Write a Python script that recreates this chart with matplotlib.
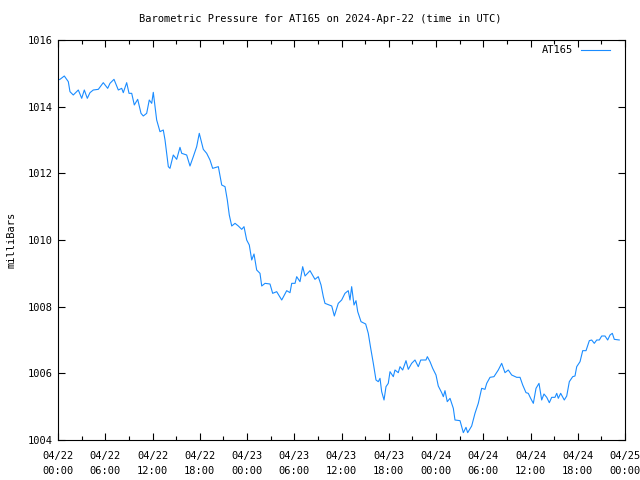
import matplotlib
matplotlib.use("Agg")
import matplotlib.pyplot as plt
from matplotlib.ticker import MultipleLocator

# hours since 2024-04-22 00:00 UTC
hours = [0.0, 0.25, 0.8, 1.31, 1.52, 1.94, 2.58, 3.01, 3.34, 3.72, 4.06, 4.48, 5.12, 5.75,
         6.31, 6.6, 7.11, 7.66, 8.09, 8.29, 8.72, 9.02, 9.36, 9.69, 10.12, 10.54, 10.83,
         11.26, 11.59, 11.9, 12.1, 12.32, 12.53, 12.95, 13.37, 13.59, 14.01, 14.22, 14.64,
         15.07, 15.49, 15.71, 16.34, 16.76, 17.18, 17.61, 17.94, 18.45, 18.88, 19.3, 19.64,
         20.36, 20.79, 21.21, 21.5, 21.75, 22.06, 22.48, 22.9, 23.33, 23.62, 23.96, 24.29,
         24.6, 24.89, 25.23, 25.65, 25.87, 26.29, 26.92, 27.26, 27.77, 28.41, 29.04, 29.46,
         29.68, 30.1, 30.31, 30.73, 31.07, 31.37, 32.0, 32.63, 33.05, 33.4, 33.69, 33.9,
         34.76, 35.09, 35.59, 36.02, 36.44, 36.86, 37.08, 37.29, 37.59, 37.84, 38.06, 38.48,
         39.07, 39.4, 39.71, 40.04, 40.38, 40.67, 40.89, 41.1, 41.4, 41.65, 41.94, 42.16,
         42.58, 42.79, 43.21, 43.43, 43.77, 44.19, 44.48, 44.91, 45.33, 45.75, 46.06, 46.73,
         46.9, 47.24, 47.58, 48.0, 48.29, 48.72, 48.93, 49.14, 49.43, 49.78, 50.2, 50.41,
         51.05, 51.47, 51.81, 52.02, 52.53, 52.95, 53.37, 53.8, 54.22, 54.44, 54.86, 55.36,
         55.91, 56.34, 56.76, 57.18, 57.61, 58.25, 58.67, 59.01, 59.43, 59.72, 60.02, 60.36,
         60.7, 61.08, 61.42, 61.71, 62.06, 62.39, 62.69, 63.11, 63.33, 63.53, 63.83, 64.29,
         64.6, 64.93, 65.36, 65.65, 65.87, 66.29, 66.63, 67.05, 67.47, 67.77, 68.1, 68.41,
         68.74, 69.04, 69.46, 69.8, 70.1, 70.39, 70.64, 71.27]

pressure = [1014.8, 1014.82, 1014.92, 1014.75, 1014.45, 1014.35, 1014.5, 1014.25, 1014.5,
            1014.25, 1014.42, 1014.5, 1014.52, 1014.72, 1014.55, 1014.7, 1014.82, 1014.5,
            1014.55, 1014.42, 1014.72, 1014.4, 1014.4, 1014.05, 1014.22, 1013.8, 1013.72,
            1013.8, 1014.2, 1014.1, 1014.43, 1014.0, 1013.6, 1013.25, 1013.3, 1013.0, 1012.2,
            1012.15, 1012.55, 1012.42, 1012.78, 1012.6, 1012.55, 1012.22, 1012.5, 1012.8,
            1013.2, 1012.72, 1012.6, 1012.4, 1012.15, 1012.2, 1011.65, 1011.6, 1011.2,
            1010.75, 1010.42, 1010.5, 1010.42, 1010.32, 1010.4, 1010.0, 1009.85, 1009.4,
            1009.58, 1009.1, 1009.0, 1008.62, 1008.7, 1008.68, 1008.4, 1008.45, 1008.2,
            1008.48, 1008.42, 1008.7, 1008.7, 1008.9, 1008.75, 1009.2, 1008.92, 1009.08,
            1008.82, 1008.9, 1008.65, 1008.3, 1008.1, 1008.02, 1007.72, 1008.1, 1008.2,
            1008.4, 1008.48, 1008.2, 1008.6, 1008.05, 1008.18, 1007.85, 1007.55, 1007.48,
            1007.2, 1006.75, 1006.3, 1005.8, 1005.75, 1005.85, 1005.45, 1005.2, 1005.6,
            1005.7, 1006.05, 1005.9, 1006.1, 1006.02, 1006.2, 1006.1, 1006.38, 1006.12,
            1006.3, 1006.4, 1006.2, 1006.4, 1006.4, 1006.5, 1006.35, 1006.15, 1005.95,
            1005.62, 1005.42, 1005.3, 1005.48, 1005.15, 1005.25, 1004.95, 1004.6, 1004.58,
            1004.22, 1004.38, 1004.22, 1004.42, 1004.8, 1005.1, 1005.55, 1005.52, 1005.7,
            1005.88, 1005.9, 1006.1, 1006.3, 1006.02, 1006.1, 1005.95, 1005.88, 1005.88,
            1005.65, 1005.42, 1005.4, 1005.25, 1005.1, 1005.55, 1005.7, 1005.2, 1005.38,
            1005.28, 1005.12, 1005.28, 1005.28, 1005.4, 1005.25, 1005.4, 1005.2, 1005.32,
            1005.75, 1005.9, 1005.92, 1006.2, 1006.35, 1006.68, 1006.68, 1006.98, 1007.0,
            1006.9, 1007.0, 1007.0, 1007.12, 1007.12, 1007.0, 1007.15, 1007.2, 1007.02,
            1007.0]

tick_hours = [0, 6, 12, 18, 24, 30, 36, 42, 48, 54, 60, 66, 72]
tick_labels = ["04/22\n00:00", "04/22\n06:00", "04/22\n12:00", "04/22\n18:00",
               "04/23\n00:00", "04/23\n06:00", "04/23\n12:00", "04/23\n18:00",
               "04/24\n00:00", "04/24\n06:00", "04/24\n12:00", "04/24\n18:00",
               "04/25\n00:00"]

plt.rcParams["font.family"] = "DejaVu Sans Mono"
plt.rcParams["font.size"] = 7.5

fig = plt.figure(figsize=(6.4, 4.8), dpi=100)
ax = fig.add_axes([58 / 640, 40 / 480, 567 / 640, 400 / 480])

ax.plot(hours, pressure, color="#1a8cff", linewidth=0.8, label="AT165")

ax.set_xlim(0, 72)
ax.set_ylim(1004, 1016)
ax.set_xticks(tick_hours)
ax.set_xticklabels(tick_labels, linespacing=1.6)
ax.xaxis.set_minor_locator(MultipleLocator(3))
ax.set_yticks(range(1004, 1017, 2))

ax.tick_params(which="both", direction="in", top=True, right=True, width=0.8)
ax.tick_params(axis="x", pad=8)
ax.tick_params(axis="y", pad=4)
ax.tick_params(which="major", length=5)
ax.tick_params(which="minor", length=3)
for s in ax.spines.values():
    s.set_linewidth(0.8)

ax.set_ylabel("milliBars", labelpad=8)
fig.text(0.5, 1 - 19 / 480, "Barometric Pressure for AT165 on 2024-Apr-22 (time in UTC)",
         ha="center", va="center", fontsize=7.5)

leg = ax.legend(loc="upper right", frameon=False, markerfirst=False,
                handlelength=2.8, handletextpad=0.7, borderaxespad=0,
                bbox_to_anchor=((614 - 58) / 567, 0.997))

fig.savefig("out.png", dpi=100)
